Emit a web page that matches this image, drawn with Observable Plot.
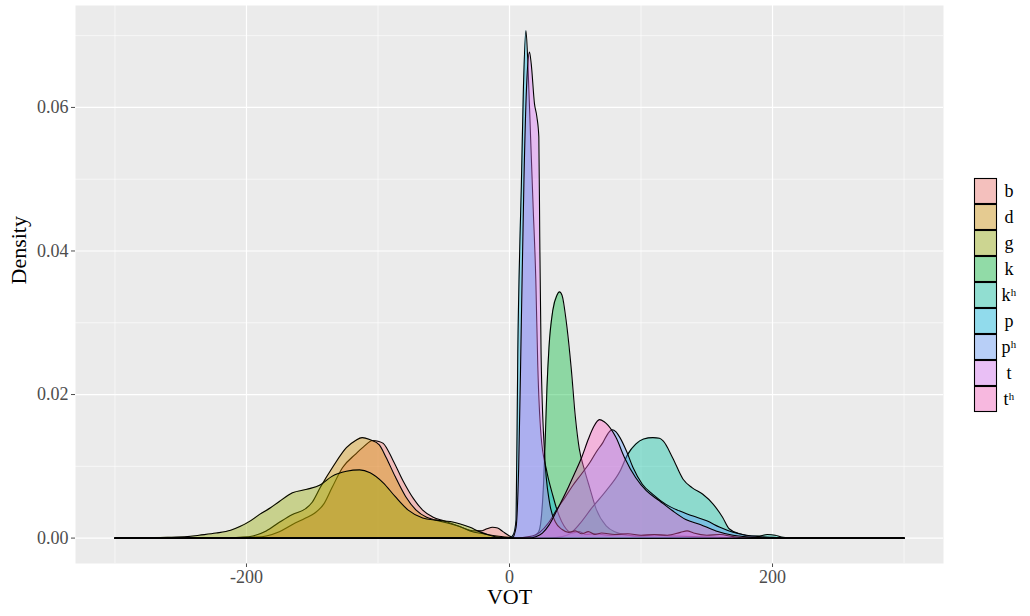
<!DOCTYPE html>
<html><head><meta charset="utf-8">
<script src="https://cdn.jsdelivr.net/npm/d3@7"></script>
<script src="https://cdn.jsdelivr.net/npm/@observablehq/plot@0.6"></script>
<style>
body{margin:0;background:#fff;}
#chart svg{font-family:"Liberation Serif","Times New Roman",serif;}
</style>
</head><body><div id="chart"></div>
<script>
// ---- data ----
const categories = ["b","d","g","k","kʰ","p","pʰ","t","tʰ"];
const b = [[-300,0],[-205,0],[-195,0.0001],[-185,0.0003],[-175,0.0009],[-165,0.0019],[-155,0.0028],[-148,0.0035],[-141,0.0048],[-135,0.0070],[-127,0.0098],[-117,0.0117],[-111,0.0127],[-104,0.0136],[-100,0.0135],[-96,0.0132],[-89,0.0110],[-81,0.0080],[-73,0.0055],[-66,0.0039],[-58,0.0029],[-50,0.0024],[-42,0.0019],[-35,0.0014],[-28,0.0010],[-22,0.0010],[-17,0.0013],[-13,0.0015],[-9,0.0014],[-5,0.0009],[0,0.0003],[5,0],[300,0]];
const d = [[-300,0],[-215,0],[-205,0.0001],[-195,0.0003],[-185,0.0010],[-175,0.0022],[-165,0.0033],[-155,0.0041],[-150,0.0050],[-144,0.0070],[-134,0.0100],[-124,0.0126],[-117,0.0136],[-112,0.0140],[-106,0.0137],[-99,0.0130],[-94,0.0113],[-87,0.0086],[-79,0.0058],[-71,0.0039],[-63,0.0029],[-56,0.0025],[-45,0.0020],[-38,0.0016],[-30,0.0010],[-20,0.0006],[-10,0.0003],[0,0.0001],[6,0],[300,0]];
const g = [[-300,0],[-280,0.00005],[-260,0.0001],[-245,0.0002],[-236,0.0004],[-223,0.0007],[-212,0.0011],[-205,0.0016],[-197,0.0024],[-190,0.0033],[-182,0.0042],[-175,0.0051],[-165,0.0063],[-154,0.0068],[-144,0.0074],[-135,0.0086],[-124,0.0093],[-114,0.0095],[-106,0.0091],[-96,0.0077],[-87,0.0058],[-77,0.0039],[-66,0.0028],[-56,0.0025],[-45,0.0023],[-38,0.0020],[-30,0.0015],[-23,0.0009],[-15,0.0004],[-8,0.0001],[0,0],[300,0]];
const k = [[-300,0],[10,0],[18,0.0002],[22,0.0008],[24,0.0025],[26,0.0080],[27.4,0.0150],[28.5,0.0210],[30,0.0265],[33,0.0318],[36,0.0338],[38,0.0343],[40,0.0338],[43,0.0304],[47,0.0235],[50,0.0170],[53,0.0125],[57,0.0095],[61,0.0070],[66,0.0040],[73.5,0.0017],[81,0.0008],[90,0.0004],[100,0.0002],[120,0.0001],[140,0],[300,0]];
const kh = [[-300,0],[30,0],[40,0.0002],[46,0.0006],[53,0.0019],[63,0.0043],[73.5,0.0066],[84,0.0093],[90,0.0117],[96,0.0131],[102,0.0138],[109,0.0140],[114,0.0139],[117,0.0135],[124,0.0112],[132,0.0082],[139,0.0070],[147,0.0061],[155,0.0047],[162,0.0029],[167,0.0013],[175,0.0006],[183,0.0003],[190,0.0003],[196,0.0005],[202,0.0004],[208,0.0001],[215,0],[300,0]];
const p = [[-300,0],[0,0],[3,0.0005],[5,0.0026],[6.3,0.0258],[8,0.0420],[9,0.0490],[10.6,0.0628],[12.5,0.0707],[14,0.0660],[16,0.0560],[18,0.0460],[20,0.0360],[21.5,0.0240],[24,0.0142],[28,0.0096],[33,0.0059],[36,0.0040],[43,0.0013],[48,0.0007],[53,0.0009],[58,0.0005],[65,0.0006],[75,0.0004],[85,0.0005],[95,0.0003],[110,0.0004],[125,0.0003],[140,0.0002],[160,0.0001],[180,0],[300,0]];
const ph = [[-300,0],[5,0],[15,0.0002],[23,0.0008],[30,0.0022],[36,0.0040],[42,0.0056],[48,0.0073],[55,0.0090],[61,0.0105],[66,0.0120],[71,0.0133],[75,0.0146],[78,0.0151],[81,0.0148],[84,0.0140],[89,0.0121],[94,0.0098],[101,0.0075],[109,0.0061],[119,0.0047],[129,0.0038],[139,0.0031],[150,0.0024],[160,0.0015],[170,0.0008],[180,0.0004],[190,0.0002],[200,0.0001],[215,0],[300,0]];
const t = [[-300,0],[2,0],[5,0.0015],[7,0.0100],[9,0.0300],[11,0.0500],[13,0.0630],[15.2,0.0677],[16.5,0.0661],[19,0.0605],[20.8,0.0587],[22.3,0.0559],[23,0.0420],[24,0.0258],[26.6,0.0120],[30.4,0.0050],[35,0.0022],[40,0.0012],[45,0.0008],[50,0.0010],[55,0.0006],[60,0.0009],[65,0.0005],[70,0.0007],[80,0.0005],[90,0.0006],[100,0.0004],[110,0.0005],[120,0.0004],[130,0.0008],[135,0.0010],[140,0.0007],[150,0.0004],[160,0.0005],[170,0.0002],[180,0],[300,0]];
const th = [[-300,0],[15,0],[20,0.0002],[25,0.0007],[30,0.0018],[35,0.0035],[40,0.0053],[45,0.0072],[50,0.0092],[55,0.0113],[60,0.0138],[64,0.0155],[68.4,0.0165],[72,0.0162],[75,0.0157],[81,0.0140],[87.5,0.0112],[96,0.0084],[104,0.0066],[114,0.0052],[124,0.0038],[134,0.0026],[145,0.0019],[157,0.0010],[170,0.0004],[185,0.0001],[200,0],[300,0]];
const xTicks = [-200, 0, 200];
const yTicks = [0, 0.02, 0.04, 0.06];
const xMinor = [-300, -100, 100, 300];
const yMinor = [0.01, 0.03, 0.05, 0.07];

// ---- build table ----
const seriesList = [b, d, g, k, kh, p, ph, t, th];
const rows = categories.flatMap((c, i) => seriesList[i].map(([v, dens]) => ({cat: c, v, dens})));
const palette = ["#F8766D","#D39200","#93AA00","#00BA38","#00C19F","#00B9E3","#619CFF","#DB72FB","#FF61C3"];

const chart = Plot.plot({
  width: 1030, height: 616,
  marginLeft: 75, marginRight: 87, marginTop: 5, marginBottom: 53,
  style: {fontFamily: "Liberation Serif, serif", fontSize: "18px", color: "#4d4d4d", background: "#fff"},
  x: {domain: [-330, 330], ticks: xTicks, tickFormat: v => String(v), tickSize: 4, tickPadding: 3, label: null},
  y: {domain: [-0.00354, 0.0742], ticks: yTicks, tickFormat: d3.format(".2f"), tickSize: 4, tickPadding: 3, label: null},
  color: {domain: categories, range: palette},
  marks: [
    Plot.frame({fill: "#EBEBEB", stroke: "none"}),
    Plot.ruleX(xMinor, {stroke: "#fff", strokeWidth: 0.6}),
    Plot.ruleY(yMinor, {stroke: "#fff", strokeWidth: 0.6}),
    Plot.ruleX(xTicks, {stroke: "#fff", strokeWidth: 1.2}),
    Plot.ruleY(yTicks, {stroke: "#fff", strokeWidth: 1.2}),
    ...categories.flatMap(c => [
      Plot.areaY(rows, {filter: r => r.cat === c, x: "v", y: "dens", fill: "cat", fillOpacity: 0.4, curve: "monotone-x"}),
      Plot.lineY(rows, {filter: r => r.cat === c, x: "v", y: "dens", stroke: "black", strokeWidth: 1.1, curve: "monotone-x"})
    ]),
    Plot.text(["VOT"], {frameAnchor: "bottom", dy: 40, fontSize: 22, fill: "black"}),
    Plot.text(["Density"], {frameAnchor: "left", dx: -57, rotate: -90, fontSize: 22, fill: "black"})
  ]
});
document.getElementById("chart").appendChild(chart);

// ---- legend (right side, inside the same SVG) ----
const colorScale = chart.scale("color");
const lg = d3.select(chart).append("g").attr("transform", "translate(974,178)");
const keyW = 23, keyH = 26;
categories.forEach((c, i) => {
  lg.append("rect").attr("x", 0).attr("y", i * keyH).attr("width", keyW).attr("height", keyH).attr("fill", "#F2F2F2");
  lg.append("rect").attr("x", 0.5).attr("y", i * keyH + 0.5).attr("width", keyW - 1).attr("height", keyH - 1)
    .attr("fill", colorScale.apply(c)).attr("fill-opacity", 0.4).attr("stroke", "black").attr("stroke-width", 1.1);
  lg.append("text").attr("x", keyW + 12).attr("y", i * keyH + keyH / 2).attr("dy", "0.35em")
    .attr("font-size", 18).attr("fill", "black").text(c);
});
</script>
</body></html>
